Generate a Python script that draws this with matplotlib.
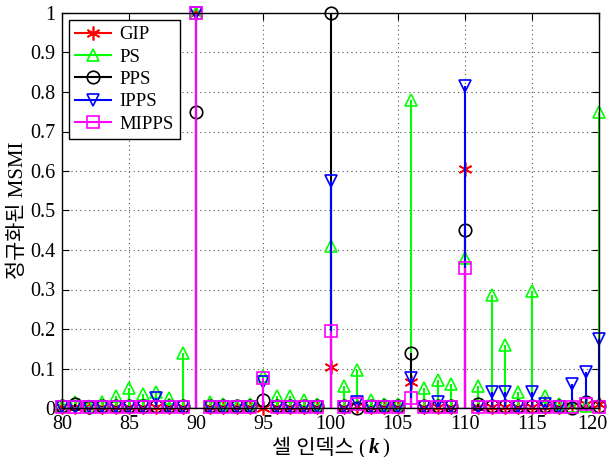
import numpy as np
import matplotlib
matplotlib.use("Agg")
import matplotlib.pyplot as plt
import matplotlib.transforms as mtransforms
from matplotlib.legend_handler import HandlerLine2D
from matplotlib.offsetbox import TextArea, HPacker, AnchoredOffsetbox

plt.rcParams['font.family'] = ['Liberation Serif', 'Noto Sans CJK KR']

k = np.arange(80, 121)

# k = 80 ... 120
gip = [0.002, 0.002, 0.002, 0.002, 0.002, 0.002, 0.002, 0.002, 0.002, 0.002,
       1.0, 0.002, 0.002, 0.002, 0.002, 0.0, 0.002, 0.002, 0.002, 0.002,
       0.105, 0.002, 0.005, 0.002, 0.002, 0.002, 0.065, 0.002, 0.002, 0.002,
       0.605, 0.002, 0.002, 0.002, 0.002, 0.002, 0.002, 0.002, 0.005, 0.01,
       0.01]
ps = [0.005, 0.015, 0.005, 0.015, 0.03, 0.05, 0.035, 0.04, 0.025, 0.14,
      1.0, 0.015, 0.01, 0.005, 0.01, 0.08, 0.03, 0.03, 0.02, 0.01,
      0.41, 0.055, 0.095, 0.02, 0.01, 0.01, 0.78, 0.05, 0.07, 0.06,
      0.38, 0.055, 0.285, 0.16, 0.04, 0.295, 0.03, 0.01, 0.005, 0.005,
      0.75]
pps = [0.005, 0.01, 0.003, 0.005, 0.005, 0.005, 0.005, 0.005, 0.005, 0.005,
       0.75, 0.005, 0.005, 0.005, 0.005, 0.02, 0.005, 0.005, 0.005, 0.005,
       1.0, 0.005, 0.0, 0.005, 0.005, 0.005, 0.14, 0.005, 0.005, 0.005,
       0.45, 0.01, 0.005, 0.005, 0.005, 0.005, 0.005, 0.005, 0.0, 0.015,
       0.005]
ipps = [0.003, 0.003, 0.003, 0.003, 0.003, 0.003, 0.003, 0.025, 0.003, 0.003,
        1.0, 0.003, 0.003, 0.003, 0.003, 0.065, 0.003, 0.003, 0.003, 0.003,
        0.575, 0.003, 0.015, 0.003, 0.003, 0.003, 0.075, 0.003, 0.015, 0.003,
        0.815, 0.003, 0.04, 0.04, 0.003, 0.04, 0.01, 0.003, 0.06, 0.09,
        0.175]
mipps = [0.003, 0.003, 0.003, 0.003, 0.003, 0.003, 0.003, 0.003, 0.003, 0.003,
         1.0, 0.003, 0.003, 0.003, 0.003, 0.075, 0.003, 0.003, 0.003, 0.003,
         0.195, 0.003, 0.01, 0.003, 0.003, 0.003, 0.025, 0.003, 0.003, 0.003,
         0.355, 0.003, 0.003, 0.003, 0.003, 0.003, 0.003, 0.003, 0.003, 0.01,
         0.003]

asterisk = (6, 2, 0)
series = [
    ('GIP', gip, '#ff0000', asterisk, 10),
    ('PS', ps, '#00ff00', '^', 9),
    ('PPS', pps, '#000000', 'o', 9),
    ('IPPS', ipps, '#0000ff', 'v', 9),
    ('MIPPS', mipps, '#ff00ff', 's', 8),
]


class EndMarkerHandler(HandlerLine2D):
    # marker near the right end of the legend line, like the original
    def get_xdata(self, legend, xdescent, ydescent, width, height, fontsize):
        xdata = np.array([-xdescent, -xdescent + width])
        return xdata, np.array([-xdescent + width * 0.75])


fig = plt.figure(figsize=(6.08, 4.57), dpi=100)
ax = fig.add_axes([62/608, 1 - 408/457, 537/608, 395/457])

handles = []
for name, vals, col, mk, ms in series:
    ml, sl, bl = ax.stem(k, vals, basefmt=' ')
    plt.setp(sl, color=col, linewidth=1.5)
    plt.setp(ml, color=col, marker=mk, markersize=ms, markerfacecolor='none',
             markeredgecolor=col, markeredgewidth=1.2, clip_on=False)
    h, = ax.plot([], [], color=col, marker=mk, markersize=ms, markerfacecolor='none',
                 markeredgecolor=col, markeredgewidth=1.2, linewidth=1.5)
    handles.append((h, name))

ax.axhline(0, color='#555555', linewidth=1.0, zorder=0)

ax.set_xlim(80, 120)
ax.set_ylim(0, 1)
ax.set_xticks(np.arange(80, 121, 5))
yt = np.round(np.arange(0, 1.01, 0.1), 1)
ax.set_yticks(yt)
ax.set_yticklabels(['0' if v == 0 else ('1' if v == 1 else '%g' % v) for v in yt])
ax.tick_params(direction='in', labelsize=14.5, top=True, right=True, length=5)
ax.tick_params(axis='x', pad=5)
ax.tick_params(axis='y', pad=5)
ax.grid(True, linestyle=(0, (1, 3)), color='#555555', linewidth=0.8)
for s in ax.spines.values():
    s.set_linewidth(1.0)

# keep "120" inside the figure
last = ax.get_xticklabels()[-1]
last.set_transform(last.get_transform() +
                   mtransforms.ScaledTranslation(-7/100, 0, fig.dpi_scale_trans))

# x label: "셀 인덱스 (k)" with bold italic k
parts = [TextArea('셀 인덱스 (', textprops=dict(fontsize=15)),
         TextArea('k', textprops=dict(fontsize=15, fontstyle='italic', fontweight='bold')),
         TextArea(')', textprops=dict(fontsize=15))]
box = HPacker(children=parts, align='baseline', pad=0, sep=2)
anch = AnchoredOffsetbox(loc='upper center', child=box, pad=0, frameon=False,
                         bbox_to_anchor=(0.5, -0.072), bbox_transform=ax.transAxes,
                         borderpad=0)
ax.add_artist(anch)

ax.set_ylabel('정규화된 MSMI', fontsize=15, labelpad=1)

leg = ax.legend([h for h, _ in handles], [n for _, n in handles], loc='upper left',
                fontsize=13.5, fancybox=False, edgecolor='black', framealpha=1,
                handlelength=1.9, handletextpad=0.45, borderaxespad=0.35,
                labelspacing=0.28, borderpad=0.35,
                handler_map={h: EndMarkerHandler() for h, _ in handles})
leg.get_frame().set_linewidth(1.0)

fig.savefig('out.png', dpi=100)
